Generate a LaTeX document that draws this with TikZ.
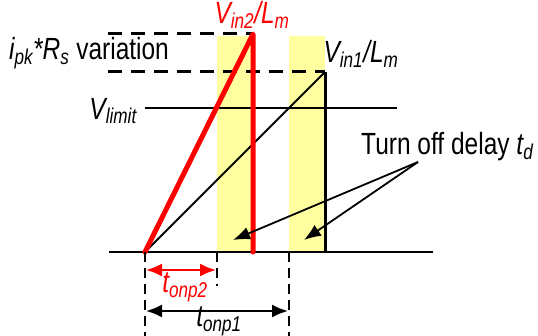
\documentclass[tikz,border=0pt]{standalone}
\usepackage{fontspec}
\usepackage{graphicx}
\setmainfont{Liberation Sans}
\usetikzlibrary{arrows.meta}
\definecolor{bandyellow}{RGB}{255,255,160}
\definecolor{rampred}{RGB}{255,0,0}
\newcommand{\vtxt}[1]{\scalebox{1}[1.25]{#1}}
\tikzset{
  lbl/.style={inner sep=0pt, font=\fontsize{24.5}{28}\selectfont},
  band/.style={fill=bandyellow, draw=none},
  dashline/.style={line width=3pt, dash pattern=on 14pt off 9pt},
  tickline/.style={line width=2.5pt, dash pattern=on 10pt off 6pt},
  tip/.style={-{Latex[length=17pt,width=13pt]}},
  dtip/.style={{Latex[length=16pt,width=13pt]}-{Latex[length=16pt,width=13pt]}},
}
\begin{document}
\begin{tikzpicture}[x=1pt,y=-1pt]
\useasboundingbox (0,0) rectangle (538,336);
% key points
\coordinate (O) at (145,252);
\coordinate (P2) at (253,34);
\coordinate (P2b) at (253,252);
\coordinate (P1) at (325,72);
\coordinate (P1b) at (325,252);
\coordinate (BL) at (109,252);
\coordinate (BR) at (433,252);
\coordinate (D1a) at (108,34);
\coordinate (D2a) at (108,72);
\coordinate (LimA) at (145,108);
\coordinate (LimB) at (397,108);
% yellow bands
\fill[band] (217,36) rectangle (253,252);
\fill[band] (289,36) rectangle (325,252);
% dashed levels
\draw[dashline] (D1a) -- (P2);
\draw[dashline] (D2a) -- (P1);
% limit line
\draw[line width=1.5pt] (LimA) -- (LimB);
% baseline
\draw[line width=2pt] (BL) -- (BR);
% ramps
\draw[line width=2pt] (O) -- (P1);
\draw[line width=3pt] (P1) -- (P1b);
\draw[rampred, line width=5pt, line cap=round, line join=round] (O) -- (P2) -- (P2b);
% ticks
\coordinate (T0) at (145,252);
\coordinate (T0e) at (145,336);
\coordinate (T2) at (217,252);
\coordinate (T2e) at (217,286);
\coordinate (T1) at (289,252);
\coordinate (T1e) at (289,336);
\draw[tickline] (T0) -- (T0e);
\draw[tickline] (T2) -- (T2e);
\draw[tickline] (T1) -- (T1e);
% dimension arrows
\coordinate (A2s) at (146,270);
\coordinate (A2e) at (216,270);
\coordinate (A1s) at (146,311);
\coordinate (A1e) at (288,311);
\draw[rampred, line width=2pt, dtip] (A2s) -- (A2e);
\draw[line width=2pt, dtip] (A1s) -- (A1e);
% labels
\node[lbl, text=rampred] (vin2) at (252,15) {\vtxt{\itshape V\textsubscript{in2}/L\textsubscript{m}}};
\node[lbl] (vin1) at (361,54) {\vtxt{\itshape V\textsubscript{in1}/L\textsubscript{m}}};
\node[lbl] (var) at (89,53) {\vtxt{{\itshape i\textsubscript{pk}*R\textsubscript{s}} variation}};
\node[lbl, anchor=east] (vlim) at (137,111) {\vtxt{\itshape V\textsubscript{limit}}};
\node[lbl, anchor=base west] (toff) at (361,155) {\vtxt{Turn off delay {\itshape t\textsubscript{d}}}};
\node[lbl, text=rampred] (ton2) at (185,287) {\vtxt{\itshape t\textsubscript{onp2}}};
\node[lbl] (ton1) at (219,321) {\vtxt{\itshape t\textsubscript{onp1}}};
% turn-off arrows
\coordinate (src) at (418,162);
\coordinate (tg1) at (233,240);
\coordinate (tg2) at (304,240);
\draw[line width=1.8pt, tip] (src) -- (tg1);
\draw[line width=1.8pt, tip] (src) -- (tg2);
\end{tikzpicture}
\end{document}
